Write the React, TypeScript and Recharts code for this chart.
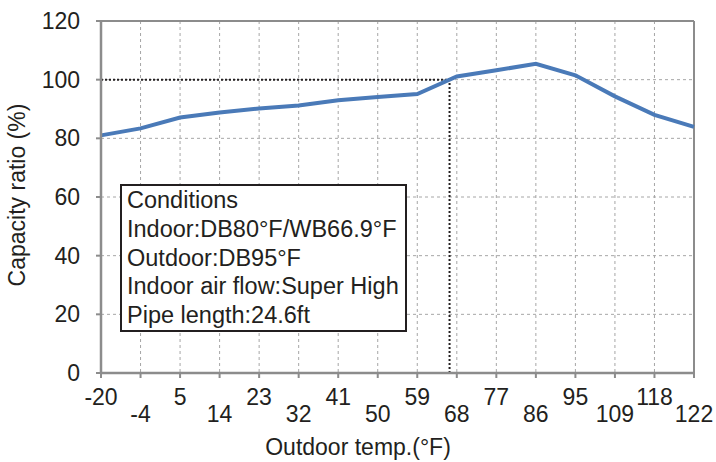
import React from "react";
import { LineChart, Line, XAxis, YAxis, CartesianGrid, ReferenceLine } from "recharts";

// Outdoor temperature categories (°F) and capacity ratio (%)
const tempLabels = ["-20", "-4", "5", "14", "23", "32", "41", "50", "59", "68", "77", "86", "95", "109", "118", "122"];
const capacityRatio = [81, 83.4, 87.1, 88.8, 90.2, 91.2, 93.0, 94.1, 95.1, 101.1, 103.2, 105.4, 101.5, 94.3, 88.0, 83.9];
const yTicks = [0, 20, 40, 60, 80, 100, 120];
const conditionLines = [
  "Conditions",
  "Indoor:DB80°F/WB66.9°F",
  "Outdoor:DB95°F",
  "Indoor air flow:Super High",
  "Pipe length:24.6ft",
];

const data = tempLabels.map((label, i) => ({ idx: i, label, ratio: capacityRatio[i] }));
const xTicks = tempLabels.map((_, i) => i);

// where the curve reaches 100%
const crossAt = (() => {
  for (let i = 0; i < capacityRatio.length - 1; i++) {
    const a = capacityRatio[i];
    const b = capacityRatio[i + 1];
    if (a < 100 && b >= 100) return i + (100 - a) / (b - a);
  }
  return 0;
})();

const FONT = '"Liberation Sans", Arial, sans-serif';
const INK = "#231f20";
const AXIS = "#8c8c8c";
const FS = 23;

const XTick = (props: any) => {
  const { x, y, payload } = props;
  const i = payload.value as number;
  return (
    <text x={x} y={y} dy={i % 2 === 0 ? 27 : 44} textAnchor="middle" fontSize={FS} fill={INK} fontFamily={FONT}>
      {tempLabels[i]}
    </text>
  );
};

export default function App() {
  return (
    <div style={{ position: "absolute", left: 0, top: 0, width: 716, height: 462, background: "#fff", fontFamily: FONT }}>
      <LineChart width={716} height={462} data={data} margin={{ top: 21, right: 22, bottom: 0, left: 0 }}>
        <CartesianGrid stroke="#a6a6a6" strokeDasharray="3 3" />
        <XAxis
          dataKey="idx"
          type="number"
          domain={[0, 15]}
          ticks={xTicks}
          interval={0}
          height={89}
          tickSize={5}
          tickMargin={0}
          axisLine={{ stroke: AXIS, strokeWidth: 2.5 }}
          tickLine={{ stroke: AXIS, strokeWidth: 2 }}
          tick={<XTick />}
          label={{
            content: () => (
              <text x={358} y={455} textAnchor="middle" fontSize={FS} fill={INK} fontFamily={FONT}>
                Outdoor temp.(°F)
              </text>
            ),
          }}
        />
        <YAxis
          domain={[0, 120]}
          ticks={yTicks}
          width={101}
          tickSize={5}
          tickMargin={16}
          axisLine={{ stroke: AXIS, strokeWidth: 2.5 }}
          tickLine={{ stroke: AXIS, strokeWidth: 2 }}
          tick={{ fontSize: FS, fill: INK, fontFamily: FONT }}
          label={{
            content: () => (
              <text transform="translate(25,195) rotate(-90)" textAnchor="middle" fontSize={FS} fill={INK} fontFamily={FONT}>
                Capacity ratio (%)
              </text>
            ),
          }}
        />
        <ReferenceLine y={120} stroke={AXIS} strokeWidth={2} />
        <ReferenceLine x={15} stroke={AXIS} strokeWidth={2} />
        <ReferenceLine
          segment={[{ x: 0, y: 100 }, { x: crossAt, y: 100 }]}
          stroke={INK}
          strokeWidth={2}
          strokeDasharray="2 2"
        />
        <ReferenceLine
          segment={[{ x: crossAt, y: 0 }, { x: crossAt, y: 100 }]}
          stroke={INK}
          strokeWidth={2}
          strokeDasharray="2 2"
        />
        <Line
          type="linear"
          dataKey="ratio"
          stroke="#4a7ab8"
          strokeWidth={4}
          dot={false}
          isAnimationActive={false}
        />
      </LineChart>
      <div
        style={{
          position: "absolute",
          left: 120,
          top: 184,
          width: 287,
          height: 148,
          boxSizing: "border-box",
          border: `2px solid ${INK}`,
          background: "#fff",
          color: INK,
          fontSize: 23.5,
          lineHeight: "28.8px",
          paddingLeft: 5,
          whiteSpace: "nowrap",
        }}
      >
        {conditionLines.map((t) => (
          <div key={t}>{t}</div>
        ))}
      </div>
    </div>
  );
}
